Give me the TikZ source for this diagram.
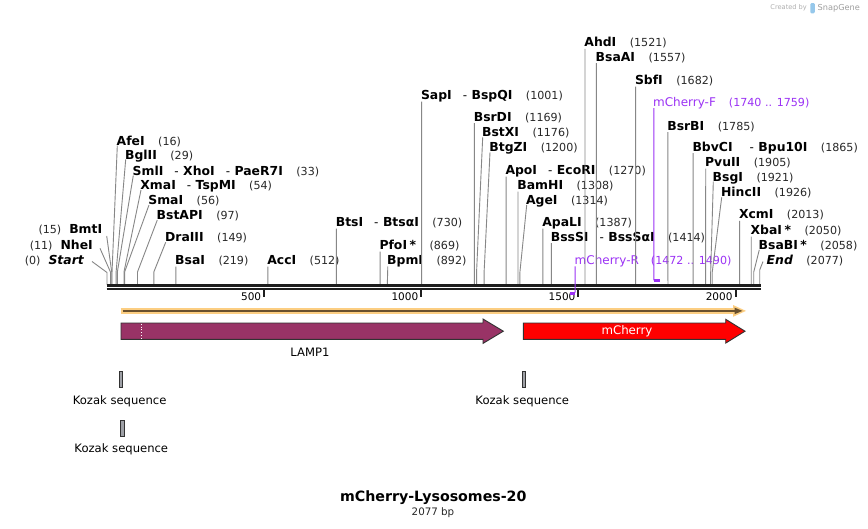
\documentclass[tikz,border=0pt]{standalone}
\usepackage{fontspec}
\setmainfont{DejaVu Sans}[ItalicFont={DejaVu Sans Oblique},BoldFont={DejaVu Sans Bold},BoldItalicFont={DejaVu Sans Bold Oblique}]
\definecolor{lampc}{RGB}{153,51,102}
\definecolor{cherryc}{RGB}{255,0,0}
\definecolor{orangec}{RGB}{252,206,130}
\definecolor{brownc}{RGB}{105,80,45}
\definecolor{primc}{RGB}{155,50,245}
\definecolor{linec}{RGB}{135,135,135}
\definecolor{rulerc}{RGB}{30,30,30}
\definecolor{numc}{RGB}{40,40,40}
\definecolor{kozc}{RGB}{158,160,166}
\definecolor{edgec}{RGB}{50,50,50}
\definecolor{logoc}{RGB}{150,200,235}
\definecolor{logotc}{RGB}{175,175,175}
\newcommand\EnzN[1]{{\fontsize{12.4}{14}\selectfont\bfseries #1}}
\newcommand\EnzP[1]{{\fontsize{11.1}{13}\selectfont\color{numc}(#1)}}
\newcommand\EnzS{\hspace{11pt}{\fontsize{12}{14}\selectfont -}\hspace{4.5pt}}
\newcommand\EnzG{\hspace{13.5pt}}
\newcommand\EnzStar{\hspace{2.5pt}*}
\newcommand\PrimN[1]{{\fontsize{12}{14}\selectfont\color{primc}#1}}
\newcommand\PrimP[1]{{\fontsize{11.1}{13}\selectfont\color{primc}(#1)}}
\begin{document}
\begin{tikzpicture}[x=1pt,y=-1pt,
  enz/.style={inner sep=0pt, anchor=base west},
  enzl/.style={inner sep=0pt, anchor=base east},
  siteline/.style={draw=linec, line width=0.9pt},
  primline/.style={draw=primc, line width=1pt},
  primbar/.style={draw=primc, line width=2.4pt},
  rulerline/.style={draw=rulerc},
  tickmark/.style={draw=rulerc, line width=2pt},
  ticklabel/.style={inner sep=0pt, anchor=east, font=\fontsize{10.5}{12}\selectfont},
  featedge/.style={draw=edgec, line width=0.9pt},
  kozak/.style={draw=edgec, fill=kozc, line width=0.7pt},
  featlabel/.style={inner sep=0pt, font=\fontsize{11.6}{13}\selectfont}]
\fill[white] (0,0) rectangle (868,528);
\useasboundingbox (0,0) rectangle (868,528);

% ---------- labels (left side) ----------
\node[enzl] (Start) at (84,264.5) {\EnzP{0}\hspace{8pt}\EnzN{\itshape Start}};
\node[enzl] (NheI) at (93,249.5) {\EnzP{11}\hspace{8pt}\EnzN{NheI}};
\node[enzl] (BmtI) at (102.4,233.8) {\EnzP{15}\hspace{8pt}\EnzN{BmtI}};
% ---------- labels (right side) ----------
\node[enz] (AfeI) at (116.5,145.2) {\EnzN{AfeI}\EnzG\EnzP{16}};
\node[enz] (BglII) at (124.9,159.0) {\EnzN{BglII}\EnzG\EnzP{29}};
\node[enz] (SmlI) at (132.5,175.0) {\EnzN{SmlI}\EnzS\EnzN{XhoI}\EnzS\EnzN{PaeR7I}\EnzG\EnzP{33}};
\node[enz] (XmaI) at (140.2,189.5) {\EnzN{XmaI}\EnzS\EnzN{TspMI}\EnzG\EnzP{54}};
\node[enz] (SmaI) at (148.2,204.5) {\EnzN{SmaI}\EnzG\EnzP{56}};
\node[enz] (BstAPI) at (156.5,219.5) {\EnzN{BstAPI}\EnzG\EnzP{97}};
\node[enz] (DraIII) at (164.9,241.8) {\EnzN{DraIII}\EnzG\EnzP{149}};
\node[enz] (BsaI) at (175.0,264.5) {\EnzN{BsaI}\EnzG\EnzP{219}};
\node[enz] (AccI) at (267.1,264.5) {\EnzN{AccI}\EnzG\EnzP{512}};
\node[enz] (BtsI) at (335.6,226.5) {\EnzN{BtsI}\EnzS\EnzN{BtsαI}\EnzG\EnzP{730}};
\node[enz] (PfoI) at (379.3,249.5) {\EnzN{PfoI\EnzStar}\EnzG\EnzP{869}};
\node[enz] (BpmI) at (387.0,264.5) {\EnzN{BpmI}\EnzG\EnzP{892}};
\node[enz] (SapI) at (420.8,99.5) {\EnzN{SapI}\EnzS\EnzN{BspQI}\EnzG\EnzP{1001}};
\node[enz] (BsrDI) at (473.6,121.2) {\EnzN{BsrDI}\EnzG\EnzP{1169}};
\node[enz] (BstXI) at (481.9,136.8) {\EnzN{BstXI}\EnzG\EnzP{1176}};
\node[enz] (BtgZI) at (489.2,151.8) {\EnzN{BtgZI}\EnzG\EnzP{1200}};
\node[enz] (ApoI) at (505.3,174.5) {\EnzN{ApoI}\EnzS\EnzN{EcoRI}\EnzG\EnzP{1270}};
\node[enz] (BamHI) at (517.2,189.5) {\EnzN{BamHI}\EnzG\EnzP{1308}};
\node[enz] (AgeI) at (525.9,204.5) {\EnzN{AgeI}\EnzG\EnzP{1314}};
\node[enz] (ApaLI) at (542.1,226.5) {\EnzN{ApaLI}\EnzG\EnzP{1387}};
\node[enz] (BssSI) at (550.6,241.2) {\EnzN{BssSI}\EnzS\EnzN{BssSαI}\EnzG\EnzP{1414}};
\node[enz] (AhdI) at (584.2,46.8) {\EnzN{AhdI}\EnzG\EnzP{1521}};
\node[enz] (BsaAI) at (595.5,61.2) {\EnzN{BsaAI}\EnzG\EnzP{1557}};
\node[enz] (SbfI) at (634.8,84.5) {\EnzN{SbfI}\EnzG\EnzP{1682}};
\node[enz] (BsrBI) at (667.1,130.2) {\EnzN{BsrBI}\EnzG\EnzP{1785}};
\node[enz] (BbvCI) at (692.3,151.2) {\EnzN{BbvCI}\hspace{6pt}\EnzS\EnzN{Bpu10I}\EnzG\EnzP{1865}};
\node[enz] (PvuII) at (704.9,166.5) {\EnzN{PvuII}\EnzG\EnzP{1905}};
\node[enz] (BsgI) at (712.5,181.2) {\EnzN{BsgI}\EnzG\EnzP{1921}};
\node[enz] (HincII) at (720.9,196.8) {\EnzN{HincII}\EnzG\EnzP{1926}};
\node[enz] (XcmI) at (738.8,218.8) {\EnzN{XcmI}\EnzG\EnzP{2013}};
\node[enz] (XbaI) at (750.4,234.5) {\EnzN{XbaI\EnzStar}\EnzG\EnzP{2050}};
\node[enz] (BsaBI) at (758.5,249.2) {\EnzN{BsaBI\EnzStar}\EnzG\EnzP{2058}};
\node[enz] (End) at (766.5,264.5) {\EnzN{\itshape End}\EnzG\EnzP{2077}};
% primers
\node[enz] (mCR) at (574.5,264.4) {\PrimN{mCherry-R}\hspace{12pt}\PrimP{1472 .. 1490}};
\node[enz] (mCF) at (652.9,106.1) {\PrimN{mCherry-F}\hspace{13pt}\PrimP{1740 .. 1759}};

% ---------- connectors, in sequence coordinates ----------
\begin{scope}[xshift=107pt, x=0.31425pt]
  % left-side labels
  \draw[siteline] ([shift={(8pt,3pt)}]Start.base east) -- (0,272.5) -- (0,284.5);
  \draw[siteline] ([shift={(7pt,1.2pt)}]NheI.base east) -- (11,272) -- (11,284.5);
  \draw[siteline] ([shift={(4.3pt,-2.2pt)}]BmtI.base east) -- (15,272) -- (15,284.5);
  % slanted connectors
  \foreach \n/\p in {AfeI/16, BglII/29, SmlI/33, XmaI/54, SmaI/56, BstAPI/97, DraIII/149,
                     BstXI/1176, BtgZI/1200, AgeI/1314, BsgI/1921, HincII/1926, BsaBI/2058}
    \draw[siteline] ([shift={(0.8pt,-0.5pt)}]\n.base west) -- (\p,272) -- (\p,284.5);
  % vertical connectors
  \foreach \n/\p in {BsaI/219, AccI/512, BtsI/730, PfoI/869, BpmI/892, SapI/1001, BsrDI/1169,
                     ApoI/1270, BamHI/1308, ApaLI/1387, BssSI/1414, AhdI/1521, BsaAI/1557,
                     SbfI/1682, BsrBI/1785, BbvCI/1865, PvuII/1905, XcmI/2013, XbaI/2050}
    \draw[siteline] ([shift={(0.8pt,-2pt)}]\n.base west) -- (\p,284.5);
  \draw[siteline] ([shift={(-3.5pt,3pt)}]End.base west) -- (2077,270) -- (2077,284.5);

  % ruler
  \draw[rulerline, line width=2.7pt] (-1.2,285.3) -- (2080,285.3);
  \draw[rulerline, line width=2.3pt] (-1.2,289.2) -- (2080,289.2);
  \foreach \t in {500,1000,1500,2000}{
    \draw[tickmark] (\t,289) -- (\t,297.3);
    \node[ticklabel, xshift=-2.8pt] (tick\t) at (\t,296.7) {\t};
  }

  % primers
  \draw[primline] ([shift={(0.7pt,-2pt)}]mCR.base west) -- (1490,292.5);
  \draw[primbar] (1472,293.3) -- (1490,293.3);
  \draw[primline] ([shift={(0.9pt,-2pt)}]mCF.base west) -- (1740,280.3);
  \draw[primbar] (1740,280.3) -- (1759,280.3);
\end{scope}

% ---------- features ----------
\draw[orangec, line width=6.3pt] (120.7,310.9) -- (736,310.9);
\fill[orangec] (733,305) -- (746,310.9) -- (733,316.8) -- cycle;
\draw[brownc, line width=2.3pt] (122.7,310.9) -- (736,310.9);
\fill[brownc] (734.5,307.6) -- (742.5,310.9) -- (734.5,314.2) -- cycle;

\draw[featedge, fill=lampc] (121,323) -- (483,323) -- (483,319) -- (503.3,331.2)
     -- (483,343.4) -- (483,339.3) -- (121,339.3) -- cycle;
\draw[white, line width=0.9pt, dotted] (141.5,323.6) -- (141.5,338.8);
\node[featlabel] (lamp) at (310,352.5) {LAMP1};

\draw[featedge, fill=cherryc] (523.3,323) -- (725.7,323) -- (725.7,319.3) -- (745,331.2)
     -- (725.7,343.1) -- (725.7,339.3) -- (523.3,339.3) -- cycle;
\node[featlabel, text=white, font=\fontsize{11.8}{13}\selectfont] (cherry) at (627,331.3) {mCherry};

% Kozak sequences
\draw[kozak] (119,371.5) rectangle (122.5,387.5);
\node[featlabel] (koz1) at (119.6,401) {Kozak sequence};
\draw[kozak] (120.4,420.5) rectangle (124,436.5);
\node[featlabel] (koz2) at (121.3,449) {Kozak sequence};
\draw[kozak] (522,371.5) rectangle (525.6,387.5);
\node[featlabel] (koz3) at (522.3,401) {Kozak sequence};

% title
\node[inner sep=0pt, font=\fontsize{14.2}{16}\selectfont\bfseries] (title) at (433.3,497.3) {mCherry-Lysosomes-20};
\node[inner sep=0pt, font=\fontsize{10.3}{12}\selectfont, text=numc] (bp) at (433,513) {2077 bp};

% logo
\node[inner sep=0pt, anchor=east, font=\fontsize{6.6}{8}\selectfont, text=logotc] (created) at (807,8) {Created by};
\fill[logoc, rounded corners=1.2pt] (810.3,3) rectangle (814.8,13.3);
\node[inner sep=0pt, anchor=west, font=\fontsize{8.2}{10}\selectfont, text=logotc!90!black] (snap) at (817.5,8) {SnapGene};
\end{tikzpicture}
\end{document}
